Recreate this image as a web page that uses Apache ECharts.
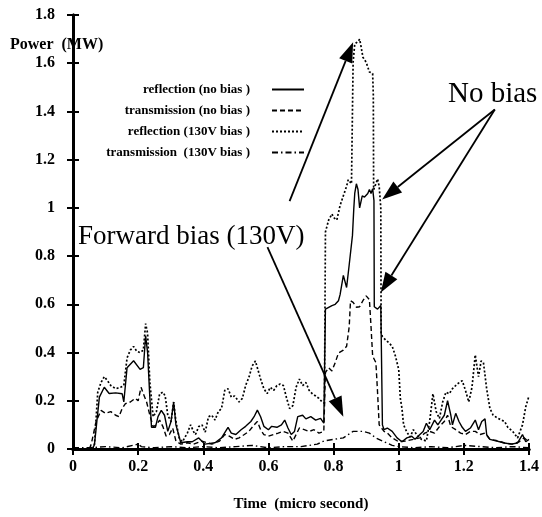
<!DOCTYPE html>
<html>
<head>
<meta charset="utf-8">
<script src="https://cdn.jsdelivr.net/npm/echarts@6/dist/echarts.min.js"></script>
<style>
  html, body { margin: 0; padding: 0; background: #fff; }
  #power { width: 542px; height: 517px; }
</style>
</head>
<body>
<div id="power"></div>
<script>
// series names (legend text)
var seriesNames = [
  "reflection (no bias )",
  "transmission (no bias )",
  "reflection (130V bias )",
  "transmission  (130V bias )"
];

// [time (micro second), power (MW)]
var reflNoBias = [
  [0.06,0],[0.066,0.02],[0.081,0.215],[0.096,0.256],[0.111,0.23],[0.131,0.233],[0.151,0.229],[0.156,0.195],
  [0.166,0.337],[0.186,0.366],[0.206,0.33],[0.216,0.337],[0.223,0.47],[0.229,0.40],[0.236,0.21],[0.241,0.09],
  [0.253,0.09],[0.261,0.134],[0.271,0.16],[0.281,0.14],[0.291,0.073],[0.301,0.114],[0.309,0.195],[0.316,0.10],
  [0.331,0.026],[0.351,0.03],[0.366,0.03],[0.386,0.046],[0.405,0.02],[0.436,0.026],[0.456,0.046],[0.476,0.09],
  [0.486,0.066],[0.50,0.06],[0.516,0.08],[0.53,0.094],[0.546,0.114],[0.556,0.134],[0.566,0.161],[0.576,0.134],
  [0.586,0.094],[0.60,0.08],[0.61,0.094],[0.626,0.09],[0.64,0.10],[0.65,0.12],[0.66,0.087],[0.67,0.06],
  [0.68,0.073],[0.69,0.134],[0.705,0.14],[0.715,0.125],[0.73,0.134],[0.745,0.12],[0.76,0.127],[0.77,0.107],
  [0.775,0.58],[0.78,0.58],[0.795,0.595],[0.805,0.60],[0.815,0.615],[0.82,0.64],[0.83,0.72],[0.84,0.67],
  [0.848,0.764],[0.858,0.886],[0.862,0.995],[0.865,1.06],[0.87,1.10],[0.875,1.076],[0.88,1.00],[0.888,1.05],
  [0.895,1.045],[0.905,1.06],[0.91,1.076],[0.915,1.06],[0.92,1.08],[0.924,1.03],[0.925,0.59],[0.935,0.58],
  [0.945,0.595],[0.95,0.10],[0.955,0.08],[0.965,0.087],[0.98,0.073],[0.995,0.046],[1.01,0.03],[1.025,0.046],
  [1.04,0.053],[1.05,0.04],[1.065,0.06],[1.075,0.073],[1.085,0.107],[1.095,0.08],[1.11,0.12],[1.12,0.10],
  [1.13,0.12],[1.14,0.14],[1.15,0.20],[1.16,0.14],[1.165,0.10],[1.175,0.148],[1.185,0.114],[1.195,0.09],
  [1.205,0.073],[1.22,0.087],[1.235,0.12],[1.245,0.08],[1.255,0.114],[1.265,0.125],[1.27,0.06],[1.28,0.04],
  [1.295,0.035],[1.31,0.03],[1.325,0.025],[1.345,0.02],[1.365,0.025],[1.38,0.06],[1.39,0.03],[1.4,0.04]
];

var transNoBias = [
  [0.05,0],[0.056,0.02],[0.071,0.114],[0.086,0.16],[0.10,0.148],[0.116,0.155],[0.131,0.14],[0.141,0.134],
  [0.151,0.168],[0.161,0.188],[0.176,0.195],[0.191,0.21],[0.20,0.20],[0.209,0.256],[0.216,0.229],[0.226,0.195],
  [0.236,0.14],[0.246,0.093],[0.256,0.10],[0.266,0.12],[0.276,0.093],[0.286,0.053],[0.296,0.06],[0.306,0.087],
  [0.316,0.033],[0.331,0.02],[0.351,0.026],[0.37,0.02],[0.396,0.033],[0.426,0.02],[0.45,0.033],[0.466,0.06],
  [0.48,0.053],[0.496,0.04],[0.51,0.046],[0.526,0.06],[0.54,0.073],[0.556,0.10],[0.566,0.114],[0.576,0.08],
  [0.586,0.06],[0.60,0.053],[0.616,0.06],[0.63,0.066],[0.645,0.073],[0.66,0.066],[0.675,0.033],[0.685,0.06],
  [0.695,0.087],[0.71,0.08],[0.725,0.073],[0.74,0.08],[0.755,0.066],[0.77,0.073],[0.775,0.317],[0.785,0.337],
  [0.795,0.324],[0.805,0.358],[0.815,0.398],[0.83,0.41],[0.84,0.426],[0.848,0.507],[0.852,0.615],[0.86,0.608],
  [0.87,0.588],[0.88,0.59],[0.89,0.615],[0.90,0.635],[0.91,0.62],[0.915,0.507],[0.92,0.385],[0.93,0.358],
  [0.935,0.236],[0.94,0.10],[0.955,0.073],[0.965,0.066],[0.98,0.046],[1.0,0.03],[1.02,0.033],[1.045,0.04],
  [1.065,0.046],[1.08,0.066],[1.095,0.073],[1.11,0.066],[1.125,0.093],[1.14,0.114],[1.15,0.14],[1.16,0.093],
  [1.175,0.08],[1.19,0.066],[1.205,0.06],[1.22,0.073],[1.235,0.073],[1.25,0.06],[1.265,0.066],[1.28,0.04],
  [1.30,0.035],[1.325,0.025],[1.35,0.02],[1.37,0.03],[1.385,0.046],[1.4,0.03]
];

var refl130 = [
  [0.06,0],[0.066,0.02],[0.076,0.236],[0.086,0.276],[0.096,0.30],[0.106,0.283],[0.116,0.263],[0.131,0.25],
  [0.146,0.256],[0.156,0.263],[0.166,0.378],[0.176,0.41],[0.186,0.425],[0.196,0.405],[0.206,0.40],[0.216,0.41],
  [0.223,0.52],[0.229,0.48],[0.236,0.276],[0.246,0.134],[0.256,0.155],[0.266,0.229],[0.276,0.236],[0.283,0.22],
  [0.291,0.14],[0.301,0.114],[0.309,0.195],[0.316,0.114],[0.326,0.046],[0.336,0.03],[0.351,0.066],[0.361,0.10],
  [0.371,0.07],[0.376,0.06],[0.386,0.093],[0.396,0.10],[0.406,0.07],[0.416,0.134],[0.426,0.14],[0.436,0.12],
  [0.446,0.155],[0.456,0.168],[0.466,0.243],[0.476,0.25],[0.486,0.215],[0.496,0.22],[0.51,0.195],[0.52,0.21],
  [0.53,0.263],[0.54,0.297],[0.55,0.344],[0.56,0.365],[0.566,0.36],[0.576,0.29],[0.586,0.25],[0.596,0.23],
  [0.606,0.256],[0.616,0.243],[0.626,0.263],[0.636,0.27],[0.646,0.263],[0.655,0.215],[0.665,0.168],[0.675,0.18],
  [0.685,0.256],[0.695,0.29],[0.705,0.263],[0.715,0.276],[0.725,0.243],[0.735,0.229],[0.745,0.22],[0.755,0.21],
  [0.765,0.195],[0.772,0.19],[0.775,0.90],[0.785,0.95],[0.795,0.975],[0.80,0.96],[0.81,0.95],[0.82,1.01],
  [0.83,1.05],[0.84,1.09],[0.845,1.117],[0.855,1.10],[0.86,1.604],[0.865,1.68],[0.875,1.69],[0.88,1.70],
  [0.885,1.665],[0.89,1.625],[0.90,1.604],[0.91,1.564],[0.92,1.557],[0.922,1.47],[0.923,1.076],[0.93,1.10],
  [0.935,1.12],[0.94,1.09],[0.945,1.0],[0.946,0.48],[0.95,0.466],[0.96,0.452],[0.97,0.44],[0.98,0.426],
  [0.99,0.385],[1.0,0.33],[1.005,0.21],[1.01,0.168],[1.015,0.10],[1.025,0.07],[1.035,0.05],[1.045,0.08],
  [1.055,0.06],[1.07,0.04],[1.085,0.033],[1.095,0.114],[1.105,0.229],[1.115,0.155],[1.125,0.127],[1.135,0.195],
  [1.145,0.236],[1.155,0.229],[1.165,0.25],[1.18,0.27],[1.195,0.283],[1.205,0.243],[1.215,0.195],[1.225,0.256],
  [1.235,0.39],[1.24,0.344],[1.245,0.30],[1.253,0.365],[1.26,0.36],[1.27,0.25],[1.28,0.168],[1.29,0.14],
  [1.305,0.127],[1.325,0.114],[1.335,0.09],[1.35,0.073],[1.365,0.046],[1.38,0.10],[1.39,0.175],[1.4,0.22]
];

var trans130 = [
  [0.0,0.005],[0.05,0.005],[0.1,0.01],[0.15,0.005],[0.2,0.02],[0.21,0.01],[0.25,0.005],[0.3,0.01],
  [0.35,0.005],[0.4,0.01],[0.45,0.005],[0.5,0.01],[0.55,0.015],[0.6,0.005],[0.65,0.01],[0.7,0.01],
  [0.75,0.02],[0.77,0.033],[0.80,0.04],[0.83,0.046],[0.86,0.073],[0.89,0.073],[0.91,0.066],[0.93,0.046],
  [0.955,0.03],[0.98,0.015],[1.0,0.01],[1.05,0.005],[1.1,0.01],[1.15,0.005],[1.2,0.015],[1.25,0.01],
  [1.3,0.005],[1.35,0.01],[1.4,0.005]
];

// arrows: [from, to] in data coordinates
var noBiasArrows = [
  [[1.295, 1.408], [0.949, 1.035]],
  [[1.295, 1.408], [0.945, 0.649]]
];
var forwardArrows = [
  [[0.665, 1.028], [0.860, 1.687]],
  [[0.597, 0.837], [0.830, 0.134]]
];

var serif = "Liberation Serif";
var dashTypes = ["solid", [5, 3], [2, 2], [6, 3, 1.5, 3]];
var lineWidths = [1.4, 1.4, 1.7, 1.4];
var seriesData = [reflNoBias, transNoBias, refl130, trans130];
var legendTops = [83, 104, 125, 146];

var myChart = echarts.init(document.getElementById("power"));

var series = seriesData.map(function (d, i) {
  return {
    name: seriesNames[i],
    type: "line",
    data: d,
    symbol: "none",
    showSymbol: false,
    animation: false,
    lineStyle: { color: "#000", width: lineWidths[i], type: dashTypes[i] },
    itemStyle: { color: "#000" }
  };
});

var legends = seriesNames.map(function (n, i) {
  return {
    data: [n],
    selectedMode: false,
    align: "right",
    right: 237,
    top: legendTops[i],
    itemWidth: 32,
    itemHeight: 14,
    padding: 0,
    itemStyle: { opacity: 0 },
    textStyle: {
      fontFamily: serif,
      fontWeight: "bold",
      fontSize: 13,
      color: "#000",
      padding: [0, 17, 0, 0]
    }
  };
});

var axisCommon = {
  type: "value",
  axisLine: { show: true, lineStyle: { color: "#000", width: 3 } },
  axisTick: { show: true, inside: true, length: 6, lineStyle: { color: "#000", width: 2 } },
  splitLine: { show: false }
};

function axis(extra) {
  return Object.assign({}, JSON.parse(JSON.stringify(axisCommon)), extra);
}

var labelStyle = { fontFamily: serif, fontWeight: "bold", fontSize: 16, color: "#000" };

var texts = [
  {
    type: "text", left: 10, top: 37, silent: true,
    style: { text: "Power  (MW)", font: "bold 16px " + serif, fill: "#000" }
  },
  {
    type: "text", left: 448, top: 80, silent: true,
    style: { text: "No bias", font: "29px " + serif, fill: "#000" }
  },
  {
    type: "text", left: 78, top: 223, silent: true,
    style: { text: "Forward bias (130V)", font: "27px " + serif, fill: "#000" }
  }
];

myChart.setOption({
  animation: false,
  grid: { left: 73, right: 3, top: 15, bottom: 59 },
  legend: legends,
  xAxis: [
    axis({
      position: "bottom", min: 0, max: 1.4, interval: 0.2,
      axisLabel: Object.assign({ margin: 10 }, labelStyle),
      name: "Time  (micro second)",
      nameLocation: "middle",
      nameGap: 48,
      nameTextStyle: { fontFamily: serif, fontWeight: "bold", fontSize: 15, color: "#000" }
    }),
    axis({ position: "top", min: 0, max: 1.4, interval: 0.2, axisLabel: { show: false } })
  ],
  yAxis: [
    axis({
      position: "left", min: 0, max: 1.8, interval: 0.2,
      axisLabel: Object.assign({ margin: 18 }, labelStyle)
    }),
    axis({ position: "right", min: 0, max: 1.8, interval: 0.2, axisLabel: { show: false } })
  ],
  graphic: texts,
  series: series
});

// arrows placed through the chart's own scales
function arrowGraphic(a) {
  var p0 = myChart.convertToPixel({ gridIndex: 0 }, a[0]);
  var p1 = myChart.convertToPixel({ gridIndex: 0 }, a[1]);
  var dx = p1[0] - p0[0], dy = p1[1] - p0[1];
  var len = Math.sqrt(dx * dx + dy * dy);
  var ux = dx / len, uy = dy / len;
  var headLen = 20, headHalf = 7;
  var bx = p1[0] - ux * headLen, by = p1[1] - uy * headLen;
  return [
    {
      type: "line", silent: true,
      shape: { x1: p0[0], y1: p0[1], x2: bx, y2: by },
      style: { stroke: "#000", lineWidth: 1.8 }
    },
    {
      type: "polygon", silent: true,
      shape: { points: [[p1[0], p1[1]], [bx - uy * headHalf, by + ux * headHalf], [bx + uy * headHalf, by - ux * headHalf]] },
      style: { fill: "#000" }
    }
  ];
}

var arrows = [];
noBiasArrows.concat(forwardArrows).forEach(function (a) {
  arrows = arrows.concat(arrowGraphic(a));
});
myChart.setOption({ graphic: texts.concat(arrows) });
</script>
</body>
</html>
